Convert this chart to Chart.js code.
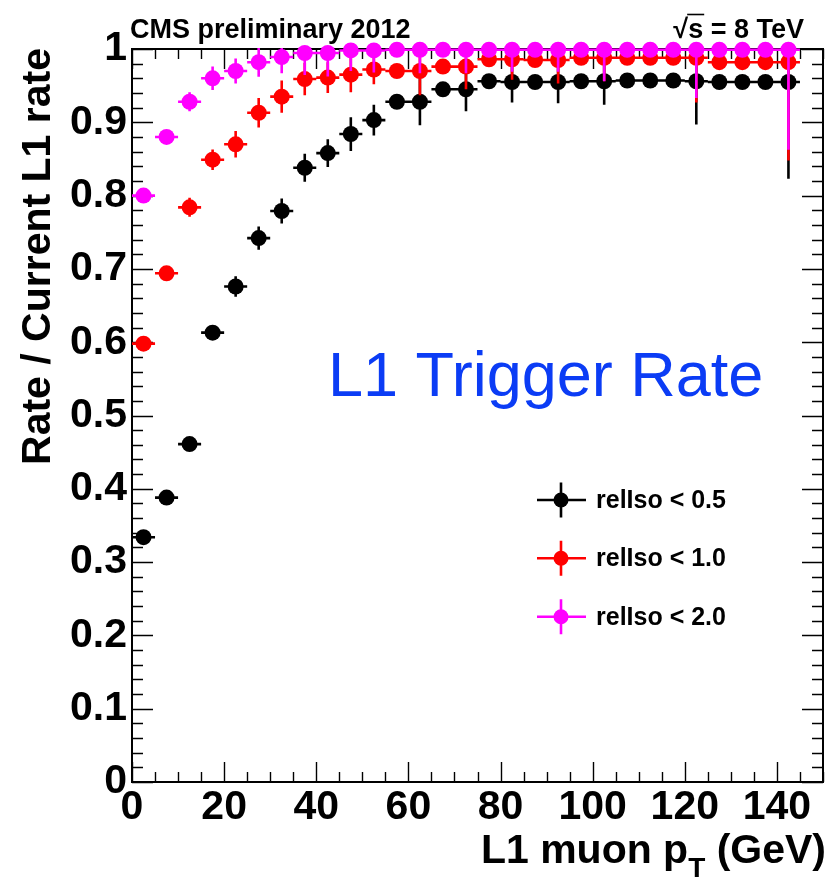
<!DOCTYPE html>
<html>
<head>
<meta charset="utf-8">
<script src="https://cdn.jsdelivr.net/npm/chart.js@4/dist/chart.umd.min.js"></script>
<style>
html,body{margin:0;padding:0;background:#fff;}
#wrap{width:831px;height:878px;position:relative;}
</style>
</head>
<body>
<div id="wrap"><canvas id="c" width="831" height="878"></canvas></div>
<script>
// ---------------- data ----------------
const binCenters = [2.5, 7.5, 12.5, 17.5, 22.5, 27.5, 32.5, 37.5, 42.5, 47.5, 52.5, 57.5, 62.5, 67.5, 72.5, 77.5, 82.5, 87.5, 92.5, 97.5, 102.5, 107.5, 112.5, 117.5, 122.5, 127.5, 132.5, 137.5, 142.5];
const binHalfWidth = 2.5;

const seriesLabels = ['relIso < 0.5', 'relIso < 1.0', 'relIso < 2.0'];

const rateIso05 = [0.334, 0.388, 0.461, 0.613, 0.676, 0.742, 0.779, 0.838, 0.858, 0.884, 0.903, 0.928, 0.928, 0.945, 0.945, 0.956, 0.955, 0.955, 0.955, 0.956, 0.956, 0.957, 0.957, 0.957, 0.956, 0.955, 0.955, 0.955, 0.955];
const errIso05  = [0.004, 0.005, 0.006, 0.008, 0.014, 0.016, 0.017, 0.019, 0.019, 0.023, 0.021, 0.006, 0.032, 0.006, 0.030, 0.006, 0.028, 0.006, 0.029, 0.006, 0.032, 0.006, 0.006, 0.006, 0.059, 0.006, 0.006, 0.006, 0.132];

const rateIso10 = [0.598, 0.694, 0.784, 0.849, 0.870, 0.913, 0.935, 0.959, 0.961, 0.965, 0.972, 0.970, 0.970, 0.976, 0.976, 0.986, 0.986, 0.985, 0.985, 0.988, 0.988, 0.988, 0.988, 0.988, 0.988, 0.982, 0.982, 0.982, 0.982];
const errIso10  = [0.004, 0.006, 0.013, 0.014, 0.018, 0.020, 0.022, 0.022, 0.021, 0.024, 0.020, 0.005, 0.033, 0.005, 0.031, 0.005, 0.028, 0.005, 0.032, 0.005, 0.032, 0.005, 0.005, 0.005, 0.061, 0.005, 0.005, 0.005, 0.134];

const rateIso20 = [0.800, 0.880, 0.928, 0.960, 0.970, 0.982, 0.989, 0.9945, 0.9945, 0.998, 0.998, 0.999, 0.999, 0.999, 0.999, 0.999, 0.999, 0.999, 0.999, 0.999, 0.999, 0.999, 0.999, 0.999, 0.999, 0.999, 0.999, 0.999, 0.999];
const errIso20  = [0.004, 0.005, 0.013, 0.016, 0.017, 0.020, 0.022, 0.030, 0.032, 0.028, 0.030, 0.004, 0.032, 0.004, 0.032, 0.004, 0.030, 0.004, 0.030, 0.004, 0.043, 0.004, 0.004, 0.004, 0.066, 0.004, 0.004, 0.004, 0.1365];

const xTickValues = [0, 20, 40, 60, 80, 100, 120, 140];
const xTickLabels = ['0', '20', '40', '60', '80', '100', '120', '140'];
const yTickValues = [0, 0.1, 0.2, 0.3, 0.4, 0.5, 0.6, 0.7, 0.8, 0.9, 1];
const yTickLabels = ['0', '0.1', '0.2', '0.3', '0.4', '0.5', '0.6', '0.7', '0.8', '0.9', '1'];
const xRange = [0, 150];
const yRange = [0, 1];

const titleText = 'CMS preliminary 2012';
const energyText = ['√', 's', ' = 8 TeV'];
const annotationText = 'L1 Trigger Rate';
const yAxisTitle = 'Rate / Current L1 rate';
const xAxisTitle = ['L1 muon p', 'T', ' (GeV)'];

// ---------------- styles ----------------
const FAM = '"Liberation Sans", Arial, Helvetica, sans-serif';
const seriesColors = ['#000000', '#ff0000', '#ff00ff'];
const seriesRates = [rateIso05, rateIso10, rateIso20];
const seriesErrs = [errIso05, errIso10, errIso20];

const datasets = seriesLabels.map((lab, k) => ({
  label: lab,
  data: binCenters.map((x, i) => ({ x: x, y: seriesRates[k][i] })),
  errors: seriesErrs[k],
  backgroundColor: seriesColors[k],
  borderColor: seriesColors[k],
  pointRadius: 8,
  pointHoverRadius: 8,
  pointBorderWidth: 0,
  borderWidth: 0,
  showLine: false,
  clip: false,
  order: 3 - k
}));

const rootPlugin = {
  id: 'rootStyle',
  beforeDatasetsDraw(chart) {
    const ctx = chart.ctx, a = chart.chartArea;
    const xs = chart.scales.x, ys = chart.scales.y;
    ctx.save();
    ctx.strokeStyle = '#000';
    ctx.lineWidth = 1.4;
    ctx.beginPath();
    for (let v = xRange[0]; v <= xRange[1] + 1e-9; v += 5) {
      const px = Math.round(xs.getPixelForValue(v)) + 0.5;
      const len = (v % 20 === 0) ? 20 : 10;
      ctx.moveTo(px, a.bottom); ctx.lineTo(px, a.bottom - len);
      ctx.moveTo(px, a.top); ctx.lineTo(px, a.top + len);
    }
    for (let k = 0; k <= 50; k++) {
      const v = k * 0.02;
      const py = Math.round(ys.getPixelForValue(v)) + 0.5;
      const len = (k % 5 === 0) ? 21 : 11;
      ctx.moveTo(a.left, py); ctx.lineTo(a.left + len, py);
      ctx.moveTo(a.right, py); ctx.lineTo(a.right - len, py);
    }
    ctx.stroke();
    ctx.lineWidth = 2;
    ctx.strokeRect(a.left, a.top, a.right - a.left, a.bottom - a.top);
    ctx.restore();
  },
  beforeDatasetDraw(chart, args) {
    const ds = chart.data.datasets[args.index];
    const ctx = chart.ctx, a = chart.chartArea;
    const xs = chart.scales.x, ys = chart.scales.y;
    ctx.save();
    ctx.beginPath();
    ctx.rect(a.left, a.top - 1, a.right - a.left, a.bottom - a.top + 1);
    ctx.clip();
    ctx.strokeStyle = ds.borderColor;
    ctx.lineWidth = 2.6;
    ctx.beginPath();
    ds.data.forEach((p, i) => {
      const e = ds.errors[i];
      const px = xs.getPixelForValue(p.x), py = ys.getPixelForValue(p.y);
      ctx.moveTo(xs.getPixelForValue(p.x - binHalfWidth), py);
      ctx.lineTo(xs.getPixelForValue(p.x + binHalfWidth), py);
      ctx.moveTo(px, ys.getPixelForValue(p.y + e));
      ctx.lineTo(px, ys.getPixelForValue(p.y - e));
    });
    ctx.stroke();
    ctx.restore();
  },
  afterDraw(chart) {
    const ctx = chart.ctx;
    ctx.save();
    ctx.fillStyle = '#000';
    ctx.font = 'bold 27px ' + FAM;
    ctx.textAlign = 'left';
    ctx.textBaseline = 'alphabetic';
    ctx.fillText(titleText, 130, 38);
    const full = energyText.join('');
    const wFull = ctx.measureText(full).width;
    const x0 = 804 - wFull;
    const wR = ctx.measureText(energyText[0]).width;
    const wS = ctx.measureText(energyText[1]).width;
    ctx.fillText(full, x0, 38);
    ctx.strokeStyle = '#000';
    ctx.lineWidth = 1.6;
    ctx.beginPath();
    ctx.moveTo(x0 + wR - 1, 14.5);
    ctx.lineTo(x0 + wR + wS + 1, 14.5);
    ctx.stroke();

    ctx.save();
    ctx.translate(50, 48);
    ctx.rotate(-Math.PI / 2);
    ctx.font = 'bold 41px ' + FAM;
    ctx.textAlign = 'right';
    ctx.textBaseline = 'alphabetic';
    ctx.fillText(yAxisTitle, 0, 0);
    ctx.restore();

    const bigF = 'bold 41px ' + FAM, subF = 'bold 28px ' + FAM;
    ctx.font = bigF; const w1 = ctx.measureText(xAxisTitle[0]).width; const w3 = ctx.measureText(xAxisTitle[2]).width;
    ctx.font = subF; const w2 = ctx.measureText(xAxisTitle[1]).width;
    let xs0 = 826 - (w1 + w2 + w3);
    ctx.textAlign = 'left';
    ctx.font = bigF; ctx.fillText(xAxisTitle[0], xs0, 863);
    ctx.font = subF; ctx.fillText(xAxisTitle[1], xs0 + w1, 877);
    ctx.font = bigF; ctx.fillText(xAxisTitle[2], xs0 + w1 + w2, 863);

    ctx.font = '63px ' + FAM;
    ctx.fillStyle = '#0b3cf5';
    ctx.fillText(annotationText, 328, 396);

    const legY = [500, 558.3, 616.7];
    chart.data.datasets.forEach((ds, k) => {
      const cx = 561, cy = legY[k];
      ctx.strokeStyle = ds.borderColor;
      ctx.fillStyle = ds.backgroundColor;
      ctx.lineWidth = 2.6;
      ctx.beginPath();
      ctx.moveTo(537, cy); ctx.lineTo(586, cy);
      ctx.moveTo(cx, cy - 17.5); ctx.lineTo(cx, cy + 17.5);
      ctx.stroke();
      ctx.beginPath();
      ctx.arc(cx, cy, 7.5, 0, Math.PI * 2);
      ctx.fill();
      ctx.fillStyle = '#000';
      ctx.font = 'bold 25px ' + FAM;
      ctx.textBaseline = 'middle';
      ctx.fillText(ds.label, 596, cy + 1);
      ctx.textBaseline = 'alphabetic';
    });
    ctx.restore();
  }
};

const tickFont = { family: FAM, size: 41, weight: 'bold' };

new Chart(document.getElementById('c').getContext('2d'), {
  type: 'scatter',
  data: { datasets: datasets },
  options: {
    responsive: false,
    animation: false,
    devicePixelRatio: 1,
    events: [],
    layout: { padding: { top: 49, right: 5, left: 0, bottom: 0 } },
    plugins: { legend: { display: false }, title: { display: false }, tooltip: { enabled: false } },
    scales: {
      x: {
        type: 'linear', min: xRange[0], max: xRange[1],
        grid: { display: false, drawTicks: false },
        border: { display: false },
        afterBuildTicks: s => { s.ticks = xTickValues.map(v => ({ value: v })); },
        afterFit: s => { s.height = 96; },
        ticks: { font: tickFont, color: '#000', padding: 1, maxRotation: 0, minRotation: 0, autoSkip: false,
                 callback: (v, i) => xTickLabels[i] }
      },
      y: {
        type: 'linear', min: yRange[0], max: yRange[1],
        grid: { display: false, drawTicks: false },
        border: { display: false },
        afterBuildTicks: s => { s.ticks = yTickValues.map(v => ({ value: v })); },
        afterFit: s => { s.width = 132; },
        ticks: { font: tickFont, color: '#000', padding: 5, autoSkip: false,
                 callback: (v, i) => yTickLabels[i] }
      }
    }
  },
  plugins: [rootPlugin]
});
</script>
</body>
</html>
